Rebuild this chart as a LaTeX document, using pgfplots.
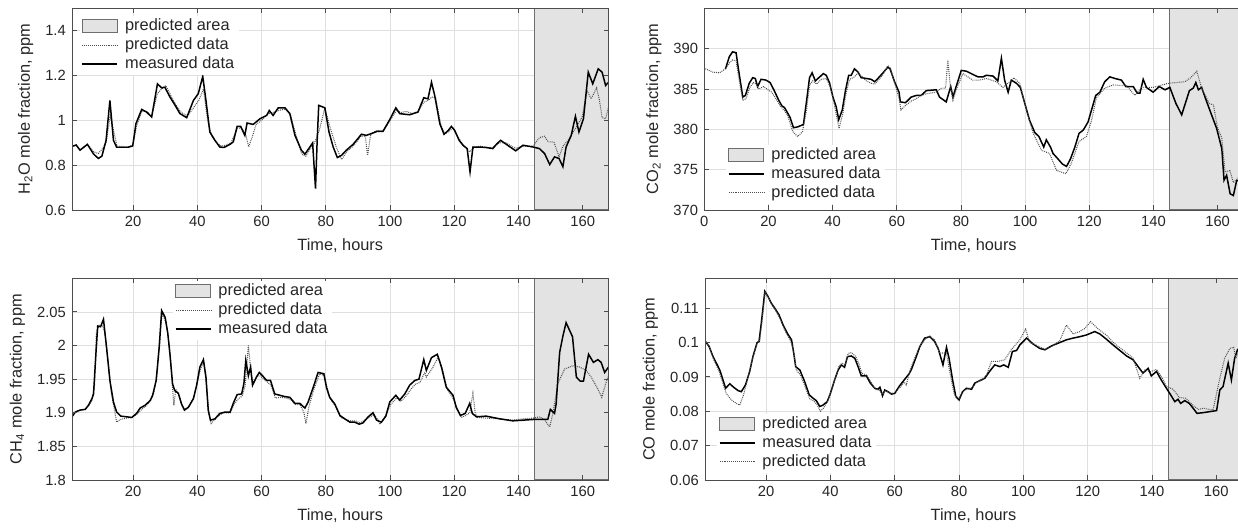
\documentclass[border=0pt]{standalone}
\usepackage{fontspec}
\setmainfont{Liberation Sans}
\usepackage{pgfplots}
\pgfplotsset{compat=1.18}

\definecolor{txt}{HTML}{262626}
\definecolor{gridc}{HTML}{DFDFDF}
\definecolor{axc}{HTML}{4D4D4D}
\definecolor{areafill}{HTML}{E3E3E3}
\definecolor{areaedge}{HTML}{6E6E6E}
\definecolor{pred}{HTML}{505050}

\pgfplotsset{
  layers/gridunder/.define layer set={axis background,axis grid,main,axis ticks,axis lines,axis tick labels,axis descriptions,axis foreground}{
    grid style={/pgfplots/on layer=axis grid},
    tick style={/pgfplots/on layer=axis ticks},
    axis line style={/pgfplots/on layer=axis lines},
    label style={/pgfplots/on layer=axis descriptions},
    legend style={/pgfplots/on layer=axis descriptions},
    title style={/pgfplots/on layer=axis descriptions},
    colorbar style={/pgfplots/on layer=axis descriptions},
    ticklabel style={/pgfplots/on layer=axis tick labels},
    axis background@ style={/pgfplots/on layer=axis background},
    3d box foreground style={/pgfplots/on layer=axis foreground},
  },
  panel/.style={
    set layers=gridunder,
    scale only axis,
    height=4.034cm,
    anchor=south west,
    xmin=1, xmax=168,
    xtick={20,40,...,160},
    grid=major,
    major grid style={gridc, line width=0.4pt},
    axis line style={axc, line width=0.5pt},
    tick style={axc, line width=0.5pt},
    tick align=inside,
    major tick length=0.09cm,
    tick label style={font=\fontsize{8.4}{10}\selectfont, color=txt},
    label style={font=\fontsize{9.3}{11}\selectfont, color=txt},
    /pgf/number format/assume math mode=true,
    scaled ticks=false,
    legend cell align=left,
    legend style={draw=none, fill=white, font=\fontsize{9.3}{11}\selectfont, text=txt,
      inner sep=1pt, row sep=0.6pt, column sep=2.5pt,
      nodes={inner xsep=1.5pt, inner ysep=0.6pt, text height=6.9pt, text depth=2pt}},
    legend image code/.code={\draw[##1] (0cm,0cm) -- (0.7cm,0cm);},
    xlabel={Time, hours},
  },
  meas/.style={black, line width=0.85pt},
  predd/.style={pred, line width=0.6pt, dash pattern=on 0.5pt off 0.6pt},
  area/.style={fill=areafill, draw=areaedge, line width=0.6pt,
    legend image code/.code={\draw[##1] (0cm,-0.13cm) rectangle (0.7cm,0.13cm);}},
}

\begin{document}
\begin{tikzpicture}

% H2O
\begin{axis}[panel, at={(1.44cm,6.42cm)}, width=10.73cm,
  ymin=0.6, ymax=1.5, ytick={0.6,0.8,1,1.2,1.4},
  ylabel={H\textsubscript{2}O mole fraction, ppm},
  legend style={at={(0.014,0.965)}, anchor=north west}]
\addplot[area] coordinates {(145,0.6) (145,1.5) (168,1.5) (168,0.6) (145,0.6)};
\addlegendentry{predicted area}
\addplot[predd] coordinates {
(1,0.884)(2.3,0.89)(3.5,0.867)(5.8,0.893)(7.7,0.86)(9.2,0.852)(10.3,0.87)(11.6,0.9)(12.9,1.02)(14,0.95)
(15,0.885)(18.5,0.882)(20,0.89)(21,0.97)(22.7,1.04)(24.2,1.04)(25.8,1.02)(27.6,1.12)(28.9,1.14)(30.2,1.155)
(31.8,1.11)(33.3,1.07)(35,1.035)(37,1.02)(39,1.06)(40.5,1.09)(41.9,1.14)(43.2,1.0)(44.5,0.93)(46,0.9)
(47.5,0.885)(49,0.89)(50.5,0.9)(52.5,0.965)(54,0.965)(55.2,0.93)(56,0.882)(57.2,0.93)(58.3,0.982)(60,1.0)
(62,1.03)(63.5,1.035)(65.5,1.045)(67.5,1.05)(69,1.025)(70.6,0.94)(72.5,0.85)(73.8,0.84)(75,0.87)(76.5,0.9)
(78,0.956)(79.7,1.056)(81.3,0.97)(83.3,0.88)(84.9,0.825)(86.5,0.86)(88.5,0.885)(91,0.93)(92.3,0.93)(93,0.844)
(94,0.94)(96,0.955)(98,0.955)(100,1.0)(102,1.045)(103.5,1.035)(105,1.04)(107,1.03)(108.7,1.04)(110.5,1.081)
(112,1.09)(113,1.104)(114.2,1.1)(115.8,0.98)(117,0.94)(118.3,0.95)(119.5,0.965)(121,0.93)(123,0.885)(124.8,0.859)
(126.3,0.88)(128,0.885)(130,0.878)(132,0.88)(134,0.9)(136,0.9)(139,0.875)(141.5,0.885)(144.5,0.885)(146.5,0.923)
(148.1,0.929)(149.2,0.904)(151,0.904)(152.6,0.837)(153.8,0.884)(155.4,0.911)(158,0.97)(159.8,1.015)(161.3,1.133)(162.6,1.096)
(164.3,1.145)(165.2,1.089)(166,1.012)(167.1,1.007)(168,1.06)};
\addlegendentry{predicted data}
\addplot[meas] coordinates {
(1,0.884)(2.3,0.89)(3.5,0.867)(5.8,0.893)(7.7,0.85)(9.2,0.83)(10.3,0.84)(11.6,0.91)(12.8,1.089)(13.9,0.911)
(14.9,0.88)(18.5,0.88)(19.9,0.886)(20.9,0.985)(22.7,1.049)(24.2,1.037)(25.8,1.015)(27.6,1.163)(28.9,1.145)(29.9,1.148)
(31.5,1.104)(33.1,1.067)(34.6,1.03)(36.7,1.012)(38.8,1.089)(40.3,1.119)(41.7,1.196)(42.7,1.089)(43.9,0.948)(45.5,0.911)
(47,0.881)(48.3,0.879)(50.2,0.893)(51.2,0.904)(52.4,0.973)(53.5,0.973)(54.8,0.933)(55.5,0.988)(57.4,0.982)(59.5,1.007)
(61.6,1.022)(62.4,1.044)(63.6,1.022)(65.2,1.056)(67.3,1.056)(68.8,1.03)(70.4,0.933)(72.4,0.867)(73.5,0.849)(74.5,0.87)
(75.9,0.899)(76.8,0.696)(77.3,0.904)(77.8,1.067)(79.7,1.056)(81.0,0.948)(82.3,0.881)(83.6,0.834)(84.9,0.844)(86.4,0.867)
(88.5,0.893)(91.1,0.938)(92.6,0.933)(94.2,0.941)(96,0.951)(97.8,0.951)(99.9,1.003)(101.8,1.056)(103,1.03)(106.1,1.025)
(108.7,1.037)(110.5,1.101)(111.8,1.096)(112.9,1.17)(113.9,1.111)(115.5,0.985)(116.8,0.938)(118,0.953)(119.1,0.973)(120.1,0.956)
(121.5,0.911)(122.7,0.889)(124,0.874)(124.9,0.77)(125.8,0.881)(127.9,0.881)(129.9,0.879)(132,0.874)(133.1,0.893)(134.4,0.911)
(136.2,0.893)(139.1,0.864)(141.4,0.889)(144.5,0.881)(146.5,0.874)(148.1,0.852)(149.7,0.803)(151.2,0.837)(152.6,0.83)(153.8,0.793)
(154.8,0.881)(156.4,0.933)(157.7,1.018)(158.8,0.948)(160.2,1.007)(161.7,1.215)(163.1,1.163)(164.8,1.23)(166,1.215)(167.1,1.156)
(168,1.17)};
\addlegendentry{measured data}
\end{axis}

% CO2
\begin{axis}[panel, at={(14.086cm,6.42cm)}, width=10.78cm,
  xmin=0, xtick={0,20,...,160},
  ymin=370, ymax=395, ytick={370,375,...,390},
  ylabel={CO\textsubscript{2} mole fraction, ppm},
  legend style={at={(0.04,0.03)}, anchor=south west}]
\addplot[area] coordinates {(145,370) (145,395) (168,395) (168,370) (145,370)};
\addlegendentry{predicted area}
\addplot[meas] coordinates {
(6.6,387.5)(7.8,389)(8.8,389.6)(9.9,389.5)(10.7,387.3)(12,384)(12.8,384.2)(14,385.7)(15.1,386.4)(15.9,386.3)
(16.6,385.3)(17.7,386.2)(19.2,386.1)(20.5,385.8)(21.8,384.8)(23.2,383.6)(24.2,382.9)(25,382.7)(26,382)(26.7,381.5)
(27.8,380.2)(29.1,380.3)(30.9,380.6)(31.9,383.6)(32.8,386.4)(33.6,387)(34.6,386)(35.7,386.4)(37.1,386.9)(38,386.7)
(39,385.8)(40.1,384)(41.1,382.8)(41.9,381.2)(43,382.4)(44,384.8)(45,386.7)(45.8,386.7)(46.8,387.5)(47.9,387.1)
(48.9,386.4)(50.5,386.3)(52,386.2)(53.1,385.9)(54.1,386.3)(55.7,387)(57.2,387.7)(57.9,387.5)(59.3,385.9)(60.7,384.6)
(61.1,383.4)(62.7,383.3)(64.5,384)(66.1,384.2)(67.6,384.2)(69.2,384.8)(72.3,384.9)(73.3,384)(75.4,383.4)(76.8,385.3)
(77.5,384)(78.5,385.3)(80.1,387.3)(81.7,387.2)(83.7,386.8)(85.3,386.5)(86.9,386.5)(87.9,386.7)(90,386.6)(91.5,386)
(92.6,388.8)(93.6,386.1)(94.7,384.6)(95.7,386.1)(97.3,385.7)(98.5,385.2)(99.9,383.2)(101.4,381.1)(103,379.6)(104.3,379.1)
(105.8,377.8)(106.6,378.7)(107.9,377.8)(108.7,377)(110.3,376.3)(111.6,375.7)(112.9,375.4)(114.1,376.3)(115.5,377.8)(116.8,379.5)
(118.1,379.9)(119.6,380.9)(120.7,382.4)(122,384.2)(123.3,384.6)(124.8,385.9)(126.4,386.5)(128,386.3)(130,386.1)(131.4,385.3)
(133.7,385.3)(134.9,384.5)(135.8,384.5)(136.8,386.2)(137.8,385.2)(139.9,384.6)(141.8,385.3)(143.6,384.9)(145.1,385.2)(147,383.2)
(148.8,381.8)(151.2,384.8)(152.4,385.1)(153.2,385.8)(154,384.9)(155,385.2)(156.6,383.4)(158.1,381.8)(159.7,380.1)(161.3,377.6)
(162,373.7)(162.8,374.3)(163.9,372)(164.9,371.8)(165.9,373.6)(166.6,373.7)(168,373.2)};
\addlegendentry{measured data}
\addplot[predd] coordinates {
(0.3,387.5)(2.6,387.1)(4.7,387)(6.6,387.5)(7.8,388.2)(8.8,388.6)(9.9,388.5)(10.7,386.5)(12,383.6)(13,383.8)
(14.2,385.2)(15.3,385.8)(16.2,385.6)(17,385)(18.5,385.3)(19.5,385)(21,384.6)(22,384)(23.5,383)(25,382.3)
(26,381.7)(27.6,379.7)(29.1,379.1)(30.6,379.7)(31.9,382.5)(32.8,385.5)(33.8,386)(35,385.6)(36.5,386.2)(38,386.3)
(39.2,385.3)(40.3,383.5)(41.3,381.5)(42,380.1)(43.2,382)(44.2,384.5)(45.3,386.2)(46.8,386.5)(47.9,387)(49,386.6)
(50.5,386)(52,385.7)(53.1,385.6)(54.3,386.1)(55.7,386.8)(57.2,387.9)(58,387.6)(59.5,385.5)(60.7,383.8)(61.3,382.4)
(62.8,383)(64.5,383.5)(66.1,383.8)(67.1,384.1)(69,384.4)(72.3,384.6)(73.9,385.1)(75.2,385.1)(75.9,388.6)(76.7,385.3)
(77.5,383.6)(78.5,384.9)(80.6,386.9)(83.7,386.1)(85.8,386.1)(87.9,386.3)(91,385.9)(93.1,385.2)(95.2,385.9)(96.4,386.4)
(98.3,385.7)(100.4,382.4)(102.5,379.5)(105.1,377.4)(107.6,377)(109.8,374.9)(112.7,374.5)(114.4,375.8)(116.8,378.5)(119.1,379.1)
(120.7,381.1)(122.2,383.9)(124.8,385.1)(127.4,385.5)(131.6,385.4)(134.2,384.2)(136.3,385.2)(139.9,385.2)(144.6,385.7)(147.2,385.8)
(149.8,385.9)(151.6,386.4)(153.5,387.2)(155,385.1)(157.4,383.2)(158.7,383)(159.9,380.3)(161.3,378.9)(162.3,374.7)(163.8,374.9)
(164.9,373.4)(166.2,373.9)(168,374.5)};
\addlegendentry{predicted data}
\end{axis}

% CH4
\begin{axis}[panel, at={(1.44cm,1.02cm)}, width=10.73cm,
  ymin=1.8, ymax=2.1, ytick={1.8,1.85,1.9,1.95,2,2.05},
  ylabel={CH\textsubscript{4} mole fraction, ppm},
  legend style={at={(0.188,0.99)}, anchor=north west}]
\addplot[area] coordinates {(145,1.8) (145,2.1) (168,2.1) (168,1.8) (145,1.8)};
\addlegendentry{predicted area}
\addplot[predd] coordinates {
(1,1.894)(2,1.9)(3.5,1.904)(5.1,1.905)(6.1,1.91)(7.2,1.918)(8,1.94)(8.6,2.02)(9.5,2.03)(10.4,2.03)
(11.2,2.02)(12.2,1.98)(13.2,1.93)(14.2,1.905)(14.9,1.886)(16,1.89)(18,1.892)(19.6,1.893)(21,1.897)(22.5,1.904)
(24,1.91)(25.5,1.918)(26.5,1.93)(27.5,1.96)(28.4,2.02)(29.1,2.047)(30.2,2.035)(31,2.01)(31.8,1.97)(32.7,1.911)
(33.3,1.935)(34.3,1.925)(35.3,1.91)(36.3,1.905)(37.5,1.91)(39,1.925)(40,1.945)(41,1.965)(42,1.975)(42.9,1.94)
(43.6,1.9)(44.3,1.884)(45.5,1.89)(47,1.897)(48.6,1.9)(50.2,1.9)(51.4,1.912)(52.6,1.92)(54,1.925)(54.9,1.94)
(55.9,2.0)(56.8,1.955)(57.6,1.945)(58.6,1.955)(59.5,1.955)(60.7,1.95)(62,1.945)(63,1.94)(64.3,1.922)(66,1.923)
(67.5,1.922)(69,1.92)(70.6,1.912)(72,1.912)(73.2,1.9)(73.8,1.884)(74.8,1.91)(76.3,1.935)(78.1,1.958)(79.6,1.955)
(80.5,1.935)(81.5,1.92)(83,1.91)(84.6,1.893)(86.2,1.89)(87.7,1.888)(89.2,1.888)(90.6,1.885)(91.8,1.888)(93.4,1.893)
(95,1.897)(96.2,1.89)(96.8,1.883)(98,1.89)(99,1.9)(100.2,1.912)(102,1.922)(103.3,1.917)(105,1.925)(106.5,1.935)
(108,1.943)(109.3,1.945)(110.8,1.96)(111.3,1.953)(113.4,1.968)(115,1.983)(116.3,1.965)(117.8,1.935)(119.8,1.92)(121,1.905)
(122.2,1.893)(123.6,1.896)(124.8,1.9)(125.8,1.929)(126.5,1.9)(127.2,1.893)(130,1.892)(134,1.891)(138,1.889)(141.4,1.891)
(144.5,1.892)(146.6,1.894)(148,1.89)(149.7,1.879)(150.7,1.899)(152.2,1.943)(154.3,1.965)(156.9,1.97)(159,1.968)(161.1,1.963)
(162.6,1.953)(164.4,1.938)(165.9,1.923)(167.1,1.943)(168,1.955)};
\addlegendentry{predicted data}
\addplot[meas] coordinates {
(1,1.894)(2,1.901)(3.5,1.904)(5.1,1.905)(6.1,1.911)(7.2,1.921)(7.7,1.928)(8.5,1.992)(9,2.029)(9.9,2.028)
(10.8,2.039)(11.8,1.995)(12.8,1.948)(13.9,1.916)(14.9,1.901)(16.2,1.895)(18,1.894)(19.6,1.893)(21.1,1.899)(22.2,1.907)
(23.7,1.911)(25.3,1.918)(26.1,1.926)(27.2,1.948)(28.2,2.0)(28.9,2.052)(30,2.042)(30.8,2.019)(31.5,1.987)(32.3,1.943)
(33,1.933)(34.1,1.929)(35.1,1.913)(36,1.904)(37.2,1.908)(38.8,1.921)(39.8,1.941)(40.8,1.968)(41.9,1.979)(42.7,1.953)
(43.4,1.904)(44.1,1.889)(45.5,1.891)(47,1.899)(48.6,1.901)(50.2,1.901)(51.2,1.914)(52.4,1.927)(53.8,1.928)(54.5,1.943)
(55.1,1.978)(55.9,1.955)(56.6,1.968)(57.2,1.941)(58.4,1.953)(59.3,1.96)(60.5,1.954)(61.6,1.948)(62.8,1.948)(64.1,1.928)
(65.7,1.926)(67.3,1.924)(68.8,1.923)(70.4,1.914)(71.9,1.914)(73.5,1.907)(74.5,1.916)(76.1,1.938)(77.6,1.96)(79.4,1.958)
(80.2,1.938)(81.2,1.923)(82.8,1.913)(84.4,1.896)(85.9,1.891)(87.5,1.886)(89,1.886)(90.4,1.883)(91.6,1.885)(93.2,1.894)
(94.7,1.9)(95.8,1.889)(97.3,1.886)(98.7,1.895)(99.9,1.916)(101.8,1.926)(103,1.919)(104.6,1.928)(106.1,1.941)(107.7,1.948)
(109,1.95)(110.5,1.979)(111.3,1.963)(112.9,1.982)(114.7,1.987)(116,1.968)(117.5,1.938)(119.6,1.926)(120.6,1.908)(121.9,1.896)
(123.4,1.899)(124.8,1.914)(125.6,1.899)(126.9,1.894)(129.9,1.895)(134.1,1.891)(138.2,1.888)(141.4,1.889)(144.5,1.89)(147.6,1.89)
(149.1,1.89)(149.9,1.905)(151.2,1.899)(151.7,1.913)(152.8,1.99)(153.8,2.014)(154.8,2.034)(156.8,2.013)(158,1.953)(159.2,1.947)
(160.2,1.947)(161.8,1.987)(163.3,1.975)(164.7,1.979)(165.7,1.975)(166.8,1.96)(168,1.968)};
\addlegendentry{measured data}
\end{axis}

% CO
\begin{axis}[panel, at={(14.1cm,1.02cm)}, width=10.74cm,
  ymin=0.06, ymax=0.1187, ytick={0.06,0.07,0.08,0.09,0.1,0.11},
  yticklabel style={/pgf/number format/.cd, fixed, precision=2},
  ylabel={CO mole fraction, ppm},
  legend style={at={(0.022,0.035)}, anchor=south west}]
\addplot[area] coordinates {(145,0.06) (145,0.1187) (168,0.1187) (168,0.06) (145,0.06)};
\addlegendentry{predicted area}
\addplot[meas] coordinates {
(1,0.1005)(2.3,0.0988)(3.5,0.0959)(4.7,0.0937)(5.6,0.092)(6.6,0.0891)(7.4,0.0867)(8.7,0.088)(9.9,0.087)(11.3,0.086)
(12.3,0.0857)(13.6,0.0877)(14.9,0.0916)(15.9,0.0959)(17.2,0.1)(17.8,0.1003)(18.5,0.1056)(19.6,0.1149)(20.6,0.1134)(21.6,0.1115)
(22.7,0.11)(24,0.1081)(25.3,0.1051)(26.6,0.1027)(27.9,0.1008)(28.6,0.0969)(29.2,0.093)(30.5,0.092)(32,0.0886)(33.4,0.0848)
(34.6,0.0838)(35.6,0.0831)(36.7,0.0814)(37.7,0.0818)(39,0.0828)(40,0.0852)(41.3,0.0891)(42.4,0.092)(43.4,0.0935)(44.4,0.0928)
(45.3,0.0959)(46.5,0.0961)(47.6,0.0954)(48.6,0.093)(49.6,0.0903)(51.2,0.0903)(52.4,0.0882)(53.8,0.0867)(54.8,0.0864)(55.4,0.087)
(56.2,0.0845)(56.9,0.0862)(57.9,0.0857)(59,0.085)(60,0.0852)(61.5,0.0874)(63.1,0.0893)(64.4,0.0908)(65.2,0.0922)(66.5,0.0954)
(67.8,0.0988)(69.3,0.1013)(70.9,0.1017)(72.4,0.1003)(73.5,0.0983)(75,0.0935)(76.1,0.0986)(76.9,0.0954)(78,0.0891)(79,0.0843)
(80,0.0833)(81.1,0.0857)(82.3,0.0867)(83.9,0.0864)(84.9,0.0882)(86.4,0.0889)(88,0.0896)(89.5,0.0916)(91.1,0.0935)(92.7,0.093)
(93.9,0.0935)(95.3,0.0928)(96.6,0.0974)(97.9,0.0977)(98.9,0.0993)(101,0.1013)(103,0.0996)(105.1,0.0983)(106.7,0.0979)(108.7,0.099)
(111.3,0.1)(113.4,0.1008)(115.5,0.1013)(117.5,0.1017)(119.6,0.1022)(122.2,0.1032)(123.8,0.1025)(125.8,0.101)(127.9,0.0993)(130,0.0977)
(132.1,0.0961)(134.1,0.095)(135.7,0.093)(137.2,0.0911)(138.8,0.0925)(139.8,0.0903)(141.4,0.0916)(142.9,0.0891)(144.5,0.0867)(145.8,0.0848)
(147.1,0.0828)(148.1,0.0835)(148.9,0.0823)(150.2,0.0831)(151.6,0.0823)(152.8,0.0809)(154,0.0794)(155.9,0.0796)(158,0.0799)(160.1,0.0802)
(161.1,0.0862)(162.1,0.0872)(163.7,0.094)(164.7,0.0891)(165.7,0.0954)(166.6,0.0979)(168,0.099)};
\addlegendentry{measured data}
\addplot[predd] coordinates {
(1,0.1005)(2.3,0.099)(3.5,0.0955)(4.7,0.093)(5.6,0.091)(6.6,0.088)(7.6,0.0852)(9.2,0.0833)(10.7,0.0823)(11.8,0.0818)
(13,0.0848)(14.3,0.0896)(15.7,0.095)(17.3,0.1)(18,0.1005)(18.7,0.106)(19.7,0.1145)(20.7,0.113)(21.8,0.111)(23,0.1093)
(24.3,0.107)(25.6,0.104)(27,0.1015)(28,0.0995)(28.8,0.096)(29.4,0.092)(30.7,0.0905)(32.2,0.087)(33.6,0.0835)(34.8,0.083)
(35.8,0.082)(36.9,0.08)(37.9,0.081)(39.2,0.083)(40.2,0.086)(41.5,0.0895)(42.6,0.093)(43.6,0.094)(44.6,0.0935)(45.5,0.0968)
(46.5,0.0971)(47.8,0.096)(48.8,0.094)(49.8,0.091)(51.4,0.0905)(52.6,0.0885)(54,0.0865)(55,0.0862)(56.2,0.085)(57,0.086)
(58,0.0855)(59.2,0.0852)(60.2,0.0855)(61.7,0.087)(62.9,0.0885)(63.6,0.0877)(64.8,0.092)(66,0.095)(67.8,0.099)(69.5,0.101)
(70.9,0.1019)(72.4,0.1008)(74,0.0969)(75.5,0.097)(76.1,0.0969)(77,0.092)(78.6,0.0845)(80,0.0838)(81.5,0.086)(82.7,0.0865)
(84.3,0.087)(85.5,0.0885)(87,0.089)(88.5,0.0905)(90.1,0.0945)(92,0.0945)(94.2,0.095)(96.3,0.098)(98.9,0.1008)(100.7,0.1039)
(102,0.1)(103.5,0.0995)(105.5,0.0985)(107,0.098)(109,0.099)(111.3,0.1005)(113.4,0.1051)(115.5,0.1025)(117.5,0.1032)(119,0.104)
(120.9,0.1061)(123.3,0.1039)(125.8,0.1022)(128,0.1)(130,0.0985)(132.1,0.097)(134.1,0.0955)(136.2,0.0896)(137.8,0.092)(139.5,0.0915)
(141.4,0.0922)(143,0.09)(144.5,0.0872)(146.6,0.0864)(148.5,0.084)(150.5,0.0838)(152.8,0.0817)(154.5,0.0805)(156,0.0809)(158,0.0805)
(159,0.0804)(161.1,0.0896)(162.6,0.0954)(164.2,0.0983)(165.4,0.0986)(166.1,0.0954)(167,0.0975)(168,0.098)};
\addlegendentry{predicted data}
\end{axis}

\pgfresetboundingbox
\path[use as bounding box] (0,0) rectangle (24.76,10.62);
\end{tikzpicture}
\end{document}
